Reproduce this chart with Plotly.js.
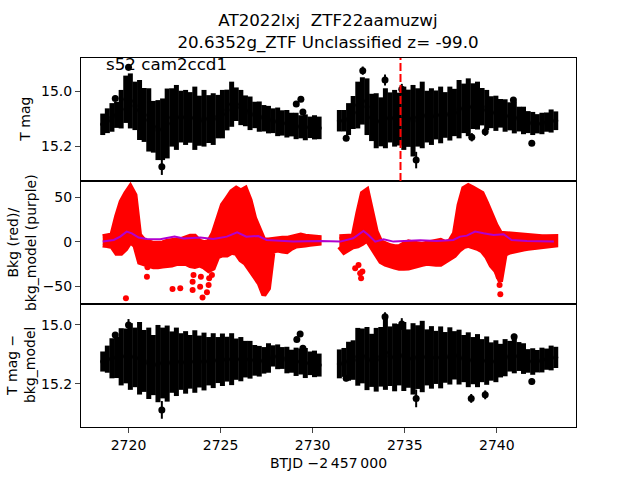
<!DOCTYPE html>
<html>
<head>
<meta charset="utf-8">
<script src="https://cdn.plot.ly/plotly-3.0.1.min.js"></script>
<style>body{margin:0;background:#fff}</style>
</head>
<body>
<div id="plot" style="width:640px;height:480px"></div>
<script>
// observation times, first and second orbit
const timeA = [2718.6, 2718.85, 2719.1, 2719.35, 2719.6, 2719.85, 2720.1, 2720.35, 2720.6, 2720.85,
  2721.1, 2721.35, 2721.6, 2721.85, 2722.1, 2722.35, 2722.6, 2722.85, 2723.1, 2723.35,
  2723.6, 2723.85, 2724.1, 2724.35, 2724.6, 2724.85, 2725.1, 2725.35, 2725.6, 2725.85,
  2726.1, 2726.35, 2726.6, 2726.85, 2727.1, 2727.35, 2727.6, 2727.85, 2728.1, 2728.35,
  2728.6, 2728.85, 2729.1, 2729.35, 2729.6, 2729.85, 2730.1, 2730.35];
const timeB = [2731.45, 2731.7, 2731.95, 2732.2, 2732.45, 2732.7, 2732.95, 2733.2, 2733.45, 2733.7,
  2733.95, 2734.2, 2734.45, 2734.7, 2734.95, 2735.2, 2735.45, 2735.7, 2735.95, 2736.2,
  2736.45, 2736.7, 2736.95, 2737.2, 2737.45, 2737.7, 2737.95, 2738.2, 2738.45, 2738.7,
  2738.95, 2739.2, 2739.45, 2739.7, 2739.95, 2740.2, 2740.45, 2740.7, 2740.95, 2741.2,
  2741.45, 2741.7, 2741.95, 2742.2, 2742.45, 2742.7, 2742.95, 2743.2];

// T mag
const magA = [15.121, 15.108, 15.096, 15.087, 15.066, 15.030, 15.036, 15.054, 15.069, 15.087,
  15.105, 15.130, 15.142, 15.139, 15.118, 15.096, 15.096, 15.093, 15.096, 15.096,
  15.099, 15.108, 15.099, 15.102, 15.102, 15.093, 15.084, 15.069, 15.048, 15.048,
  15.060, 15.072, 15.081, 15.087, 15.093, 15.099, 15.104, 15.108, 15.112, 15.116,
  15.119, 15.122, 15.127, 15.130, 15.132, 15.132, 15.132, 15.134];
const magErrA = [0.039, 0.045, 0.052, 0.047, 0.070, 0.086, 0.100, 0.088, 0.109, 0.098,
  0.115, 0.094, 0.109, 0.112, 0.127, 0.106, 0.118, 0.094, 0.100, 0.092,
  0.115, 0.091, 0.103, 0.087, 0.094, 0.079, 0.088, 0.074, 0.082, 0.061,
  0.064, 0.056, 0.061, 0.048, 0.055, 0.048, 0.050, 0.045, 0.052, 0.046,
  0.050, 0.043, 0.048, 0.042, 0.047, 0.039, 0.044, 0.041];
const magB = [15.108, 15.108, 15.102, 15.078, 15.051, 15.036, 15.057, 15.096, 15.108, 15.112,
  15.099, 15.096, 15.099, 15.102, 15.099, 15.099, 15.108, 15.096, 15.087, 15.093,
  15.093, 15.087, 15.087, 15.087, 15.082, 15.078, 15.066, 15.063, 15.059, 15.055,
  15.053, 15.057, 15.069, 15.077, 15.081, 15.081, 15.089, 15.092, 15.096, 15.102,
  15.107, 15.113, 15.118, 15.119, 15.118, 15.113, 15.109, 15.108];
const magErrB = [0.039, 0.039, 0.058, 0.060, 0.085, 0.086, 0.103, 0.086, 0.100, 0.089,
  0.109, 0.091, 0.103, 0.096, 0.115, 0.104, 0.130, 0.106, 0.121, 0.094,
  0.103, 0.089, 0.103, 0.083, 0.098, 0.086, 0.106, 0.090, 0.105, 0.083,
  0.087, 0.068, 0.073, 0.058, 0.064, 0.052, 0.059, 0.051, 0.058, 0.045,
  0.050, 0.040, 0.042, 0.035, 0.039, 0.035, 0.042, 0.034];

// background flux (centre and half spread of the cloud)
const bkgA = [1.3, 1.5, 1.3, 7.9, 16.3, 23.4, 31.3, 24.3, -7.5, -11.6,
  -13.1, -14.6, -14.6, -14.0, -12.5, -12.0, -11.0, -10.7, -9.9, -10.1,
  -10.5, -12.4, -14.4, -15.9, -9.9, 5.1, 13.5, 17.2, 22.5, 23.8,
  18.5, 18.2, 7.9, -6.2, -16.5, -28.7, -24.9, -3.6, -2.4, -3.0,
  -3.4, -0.9, 0.9, 2.2, 1.5, 1.7, 2.2, 1.7];
const bkgSpreadA = [4.7, 5.6, 6.6, 20.6, 29.0, 31.3, 30.9, 28.5, 15.4, 13.5,
  13.1, 13.1, 13.1, 12.9, 13.3, 13.9, 13.3, 13.3, 14.0, 16.5,
  16.9, 13.5, 13.7, 16.3, 19.7, 21.5, 28.1, 31.8, 34.1, 36.5,
  38.8, 42.1, 39.3, 32.8, 30.0, 30.9, 27.2, 6.6, 6.6, 7.1,
  7.5, 6.2, 5.4, 5.6, 4.9, 4.3, 3.7, 3.2];
const bkgB = [0.4, -2.8, -1.5, 0.7, 13.9, 26.6, 30.3, 13.5, -1.5, -10.9,
  -13.9, -15.4, -16.7, -17.4, -15.9, -14.6, -14.4, -14.6, -13.9, -12.7,
  -12.0, -12.0, -11.6, -11.0, -8.6, -2.8, 16.1, 27.5, 29.8, 27.7,
  25.5, 22.3, 13.5, 1.5, -6.7, -17.4, -2.2, -1.5, -1.1, -0.6,
  -0.4, -0.6, -0.2, 0.2, 0.4, 0.7, 1.1, 1.3];
const bkgSpreadB = [5.6, 8.8, 7.5, 6.0, 18.4, 28.1, 28.1, 20.6, 13.1, 11.2,
  11.2, 11.2, 11.4, 12.2, 13.7, 14.6, 13.3, 12.0, 11.2, 11.2,
  12.0, 13.1, 13.5, 10.3, 9.7, 12.5, 25.5, 32.8, 33.5, 33.0,
  32.6, 32.4, 30.0, 28.1, 25.8, 27.2, 11.6, 9.7, 9.0, 8.4,
  7.5, 6.6, 6.2, 5.8, 5.6, 5.2, 4.9, 4.7];

// T mag - bkg_model
const subA = [15.124, 15.116, 15.113, 15.110, 15.108, 15.105, 15.107, 15.110, 15.113, 15.122,
  15.130, 15.136, 15.131, 15.129, 15.131, 15.126, 15.125, 15.124, 15.127, 15.125,
  15.124, 15.124, 15.124, 15.123, 15.121, 15.119, 15.118, 15.116, 15.116, 15.116,
  15.116, 15.116, 15.118, 15.120, 15.123, 15.120, 15.112, 15.105, 15.108, 15.112,
  15.119, 15.123, 15.125, 15.124, 15.129, 15.130, 15.132, 15.136];
const subErrA = [0.034, 0.046, 0.068, 0.070, 0.097, 0.093, 0.113, 0.101, 0.123, 0.105,
  0.121, 0.102, 0.131, 0.120, 0.129, 0.104, 0.116, 0.096, 0.106, 0.091,
  0.106, 0.088, 0.098, 0.082, 0.093, 0.078, 0.089, 0.076, 0.088, 0.070,
  0.075, 0.062, 0.064, 0.052, 0.052, 0.045, 0.050, 0.036, 0.042, 0.037,
  0.045, 0.039, 0.048, 0.044, 0.051, 0.040, 0.045, 0.039];
const subB = [15.132, 15.127, 15.123, 15.119, 15.108, 15.105, 15.114, 15.120, 15.118, 15.108,
  15.093, 15.106, 15.110, 15.101, 15.107, 15.114, 15.115, 15.109, 15.107, 15.110,
  15.110, 15.110, 15.110, 15.110, 15.105, 15.103, 15.109, 15.114, 15.118, 15.121,
  15.121, 15.121, 15.121, 15.124, 15.123, 15.121, 15.111, 15.106, 15.105, 15.107,
  15.114, 15.122, 15.124, 15.123, 15.119, 15.116, 15.112, 15.110];
const subErrB = [0.049, 0.049, 0.066, 0.067, 0.098, 0.093, 0.107, 0.090, 0.108, 0.101,
  0.127, 0.101, 0.115, 0.104, 0.117, 0.099, 0.121, 0.108, 0.121, 0.095,
  0.106, 0.090, 0.105, 0.086, 0.097, 0.082, 0.093, 0.080, 0.093, 0.080,
  0.090, 0.073, 0.082, 0.065, 0.071, 0.057, 0.063, 0.052, 0.059, 0.049,
  0.052, 0.040, 0.045, 0.038, 0.042, 0.036, 0.042, 0.036];

// isolated points
const oddTimeTop = [2719.28, 2720.0, 2721.81, 2729.11, 2729.36, 2729.47, 2731.82, 2732.72, 2733.93, 2734.84, 2735.62, 2738.64, 2739.37, 2740.9, 2741.9];
const oddMagTop = [15.027, 14.914, 15.275, 15.047, 15.030, 15.076, 15.172, 14.926, 14.960, 14.994, 15.251, 15.168, 15.148, 15.033, 15.190];
const oddErrTop = [0.010, 0.012, 0.030, 0.008, 0.008, 0.008, 0.010, 0.015, 0.020, 0.020, 0.030, 0.015, 0.015, 0.010, 0.010];
const oddTimeSub = [2719.28, 2720.0, 2721.81, 2729.14, 2729.32, 2729.47, 2731.82, 2733.93, 2734.84, 2735.62, 2738.61, 2739.37, 2740.94, 2741.9];
const oddMagSub = [15.034, 15.000, 15.288, 15.049, 15.031, 15.079, 15.181, 14.972, 14.997, 15.249, 15.249, 15.237, 15.040, 15.192];
const oddErrSub = [0.010, 0.020, 0.030, 0.008, 0.008, 0.008, 0.010, 0.015, 0.020, 0.030, 0.015, 0.015, 0.010, 0.010];
const oddTimeBkg = [2719.86, 2721.0, 2721.03, 2722.39, 2722.81, 2723.48, 2723.48, 2723.53, 2723.89, 2723.93, 2724.02, 2724.26,
  2724.35, 2724.38, 2724.53, 2732.31, 2732.49, 2732.58, 2732.63, 2732.7, 2740.1, 2740.15, 2740.19];
const oddBkg = [-63.3, -39.0, -28.5, -52.8, -52.1, -53.9, -44.6, -37.1, -50.2, -39.0, -62.5, -56.6,
  -48.3, -40.8, -37.1, -29.6, -25.8, -35.2, -40.8, -33.3, -39.0, -48.3, -58.8];

// bkg_model
const modelTime = [2718.6, 2719.2, 2719.55, 2719.9, 2720.18, 2720.55, 2721.0, 2721.72, 2722.5, 2723.0,
  2723.9, 2724.6, 2725.34, 2725.9, 2726.4, 2727.05, 2727.5, 2728.95, 2730.4, 2731.5,
  2732.2, 2732.76, 2733.03, 2733.4, 2733.85, 2734.39, 2735.84, 2736.74, 2737.64, 2738.0,
  2738.37, 2738.82, 2739.28, 2739.82, 2740.37, 2740.8, 2741.63, 2743.1];
const modelBkg = [0.4, 2.2, 6.0, 11.6, 9.7, 4.9, 3.4, 3.0, 6.0, 4.0,
  4.9, 3.4, 6.0, 10.9, 6.0, 6.7, 2.2, 0.4, 1.1, 0.4,
  4.1, 12.4, 7.9, 0.4, 3.0, 0.4, 1.9, 1.1, 2.2, 6.0,
  7.1, 11.6, 9.7, 7.9, 8.6, 2.2, 1.1, 0.4];

const eventTime = 2734.77;

const xRange = [2717.42, 2744.3];
const times = timeA.concat(timeB);

function errPoints(x, y, e, xa, ya, thick, size) {
  return {
    x: x, y: y, xaxis: xa, yaxis: ya,
    type: 'scatter', mode: 'markers',
    marker: { color: 'black', size: size },
    error_y: { type: 'data', array: e, visible: true, color: 'black', thickness: thick, width: 0 },
    showlegend: false, hoverinfo: 'skip'
  };
}

// red cloud outline for one orbit, from centre +/- spread
function cloud(t, c, s) {
  const up = c.map((v, i) => v + s[i]);
  const lo = c.map((v, i) => v - s[i]);
  return {
    x: t.concat(t.slice().reverse()),
    y: up.concat(lo.reverse()),
    xaxis: 'x2', yaxis: 'y2', type: 'scatter', mode: 'lines',
    fill: 'toself', fillcolor: 'red',
    line: { color: 'red', width: 5 },
    showlegend: false, hoverinfo: 'skip'
  };
}

const data = [
  errPoints(times, magA.concat(magB), magErrA.concat(magErrB), 'x', 'y', 5, 5),
  errPoints(oddTimeTop, oddMagTop, oddErrTop, 'x', 'y', 2, 7),
  cloud(timeA, bkgA, bkgSpreadA),
  cloud(timeB, bkgB, bkgSpreadB),
  { x: oddTimeBkg, y: oddBkg, xaxis: 'x2', yaxis: 'y2', type: 'scatter', mode: 'markers',
    marker: { color: 'red', size: 6 }, showlegend: false, hoverinfo: 'skip' },
  { x: modelTime, y: modelBkg, xaxis: 'x2', yaxis: 'y2', type: 'scatter', mode: 'lines',
    line: { color: '#b000d0', width: 2 }, showlegend: false, hoverinfo: 'skip' },
  errPoints(times, subA.concat(subB), subErrA.concat(subErrB), 'x3', 'y3', 5, 5),
  errPoints(oddTimeSub, oddMagSub, oddErrSub, 'x3', 'y3', 2, 7)
];

const frame = {
  showline: true, mirror: true, linecolor: 'black', linewidth: 1,
  showgrid: false, zeroline: false
};

const layout = {
  width: 640, height: 480,
  margin: { l: 81, r: 64, t: 58, b: 53 },
  paper_bgcolor: 'white', plot_bgcolor: 'white',
  font: { family: 'DejaVu Sans', size: 14, color: 'black' },
  showlegend: false,
  title: {
    text: 'AT2022lxj \u00a0ZTF22aamuzwj<br>20.6352g_ZTF Unclassified z= -99.0',
    font: { size: 16.7 },
    x: 0.5125, xanchor: 'center', yref: 'container', y: 0.946, yanchor: 'bottom'
  },
  xaxis: Object.assign({}, frame, { anchor: 'y', range: xRange, showticklabels: false, ticks: '' }),
  xaxis2: Object.assign({}, frame, { anchor: 'y2', range: xRange, showticklabels: false, ticks: '' }),
  xaxis3: Object.assign({}, frame, {
    anchor: 'y3', range: xRange, ticks: 'outside', ticklen: 5,
    tickvals: [2720, 2725, 2730, 2735, 2740],
    title: { text: 'BTJD \u22122\u2009457\u2009000', font: { size: 14 }, standoff: 6 }
  }),
  yaxis: Object.assign({}, frame, {
    domain: [0.6667, 1], range: [15.327, 14.88], ticks: 'outside', ticklen: 5,
    tickvals: [15.0, 15.2], tickformat: '.1f'
  }),
  yaxis2: Object.assign({}, frame, {
    domain: [0.3333, 0.6667], range: [-69.7, 68.5], ticks: 'outside', ticklen: 5,
    tickvals: [-50, 0, 50]
  }),
  yaxis3: Object.assign({}, frame, {
    domain: [0, 0.3333], range: [15.346, 14.929], ticks: 'outside', ticklen: 5,
    tickvals: [15.0, 15.2], tickformat: '.1f'
  }),
  shapes: [{
    type: 'line', xref: 'x', yref: 'y domain', x0: eventTime, x1: eventTime, y0: 0, y1: 1,
    line: { color: 'red', width: 2, dash: '8px,3px' }
  }],
  annotations: [
    { text: 's52 cam2ccd1', xref: 'x', yref: 'paper', x: 2718.65, y: 0.984,
      xanchor: 'left', yanchor: 'middle', showarrow: false, font: { size: 16.7 } },
    { text: 'T mag', xref: 'paper', yref: 'paper', x: -0.113, y: 0.833, textangle: -90,
      xanchor: 'center', yanchor: 'middle', showarrow: false },
    { text: 'Bkg (red)/<br>bkg_model (purple)', xref: 'paper', yref: 'paper', x: -0.12, y: 0.5,
      textangle: -90, xanchor: 'center', yanchor: 'middle', showarrow: false },
    { text: 'T mag \u2212<br>bkg_model', xref: 'paper', yref: 'paper', x: -0.12, y: 0.1667,
      textangle: -90, xanchor: 'center', yanchor: 'middle', showarrow: false }
  ]
};

Plotly.newPlot('plot', data, layout, { displayModeBar: false, staticPlot: true });
</script>
</body>
</html>
